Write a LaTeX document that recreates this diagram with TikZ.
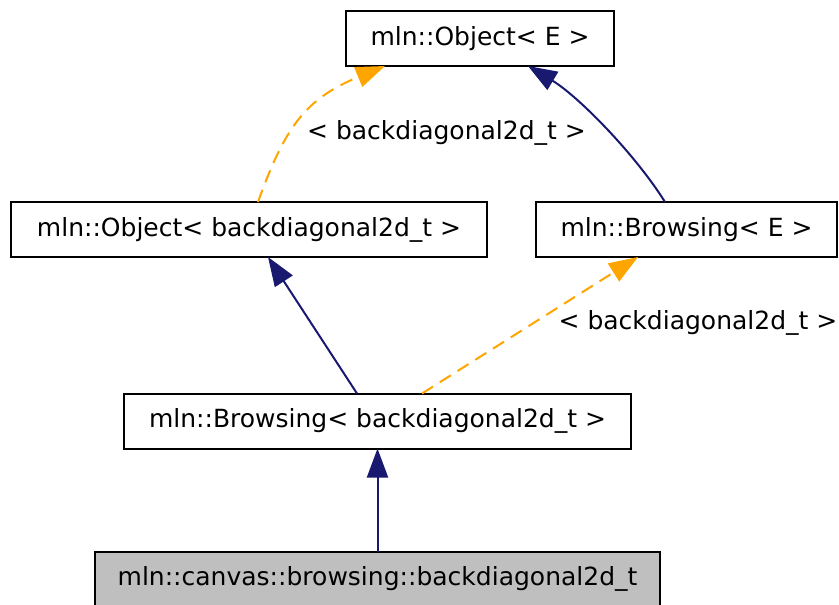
\documentclass[tikz,border=0pt]{standalone}
\usepackage{fontspec}
\setmainfont{DejaVu Sans}
\usetikzlibrary{arrows.meta}
\definecolor{dxblue}{HTML}{191970}
\definecolor{dxorange}{HTML}{FFA500}
\definecolor{dxgray}{HTML}{BFBFBF}
\begin{document}
\begin{tikzpicture}[x=1pt,y=-1pt,
  every node/.style={font=\fontsize{25pt}{30pt}\selectfont, inner sep=0pt, outer sep=0pt},
  classbox/.style={draw=black, line width=2pt, fill=white, minimum height=55pt},
  inherit/.style={draw=dxblue, line width=2pt, -{Triangle[length=29pt,width=21pt]}},
  templ/.style={draw=dxorange, line width=2pt, dash pattern=on 13pt off 8pt, -{Triangle[length=29pt,width=21pt]}},
  elabel/.style={text=black}]
\useasboundingbox (0,0) rectangle (839,605);
\node[classbox, minimum width=268pt] (objE) at (480,38.5) {mln::Object< E >};
\node[classbox, minimum width=476pt] (objB) at (249,229.5) {mln::Object< backdiagonal2d\_t >};
\node[classbox, minimum width=301pt] (brE) at (686.5,229.5) {mln::Browsing< E >};
\node[classbox, minimum width=507pt] (brB) at (377.5,421) {mln::Browsing< backdiagonal2d\_t >};
\node[classbox, fill=dxgray, minimum width=565pt] (cur) at (377.5,579) {mln::canvas::browsing::backdiagonal2d\_t};
\node[elabel] (l1) at (446.5,133) {< backdiagonal2d\_t >};
\node[elabel] (l2) at (698,323) {< backdiagonal2d\_t >};
% edges
\draw[inherit] (cur.north) -- (brB.south);
\draw[inherit] ([xshift=-20.5pt]brB.north) -- ([xshift=19pt]objB.south);
\draw[templ] ([xshift=44.5pt]brB.north) -- ([xshift=-48.5pt]brE.south);
\draw[templ] ([xshift=9pt]objB.north) .. controls (285,127) and (305,99) .. ([xshift=-95pt]objE.south);
\draw[inherit] ([xshift=-21.5pt]brE.north) .. controls (635,154) and (578,96) .. ([xshift=48pt]objE.south);
\end{tikzpicture}
\end{document}
